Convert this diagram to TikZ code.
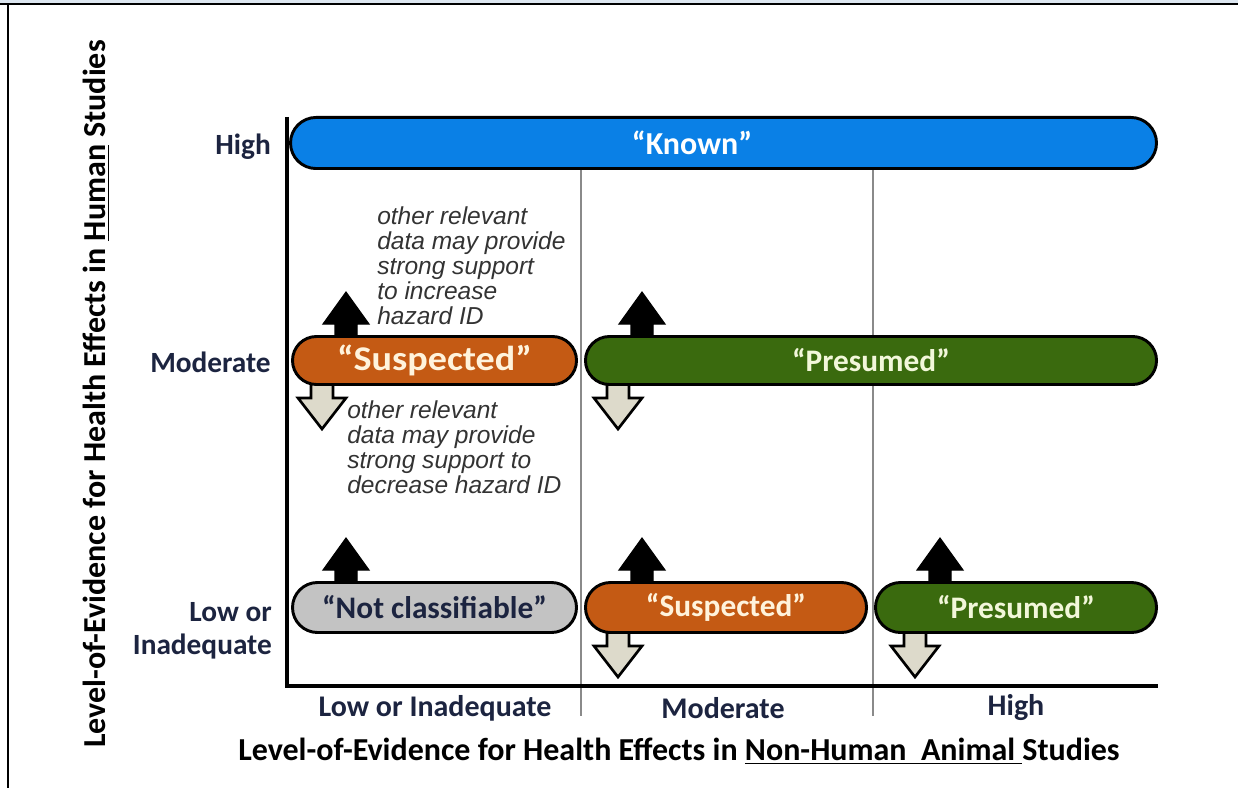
\documentclass[tikz,border=0pt]{standalone}
\usepackage{fontspec}
\usepackage{graphicx}
\setmainfont{Carlito}
\newfontfamily\notefont{Liberation Sans}
\usetikzlibrary{shapes.misc}
\definecolor{knownblue}{HTML}{0A80E6}
\definecolor{suspor}{HTML}{C45A14}
\definecolor{presgr}{HTML}{3A6A0E}
\definecolor{ncgray}{HTML}{C3C3C3}
\definecolor{downfill}{HTML}{DDDACB}
\definecolor{navy}{HTML}{1C2440}
\definecolor{framebl}{HTML}{DCE6F0}
\definecolor{gridgray}{HTML}{8A8A8A}
\definecolor{notegray}{HTML}{333333}
\definecolor{creamw}{HTML}{FFF3DC}
\definecolor{greenw}{HTML}{F2F7DA}
\tikzset{
  bar/.style={rounded rectangle, draw=black, line width=2.2pt, inner sep=0pt,
    font=\bfseries\fontsize{23.5}{27}\selectfont},
  upar/.style={fill=black, draw=black, line width=0.8pt, line join=miter},
  downar/.style={fill=downfill, draw=black, line width=2pt, line join=miter},
  axisline/.style={line width=2.4pt, black},
  gridl/.style={line width=1.6pt, gridgray},
  rowlab/.style={font=\bfseries\fontsize{22}{24.75}\selectfont, text=navy, align=right, anchor=east, inner sep=0pt},
  ticklab/.style={font=\bfseries\fontsize{22.5}{25}\selectfont, text=navy, inner sep=0pt},
  axtitle/.style={font=\bfseries\fontsize{24}{28}\selectfont, text=black, inner sep=0pt},
  note/.style={font=\notefont\itshape\fontsize{18.4}{18.75}\selectfont, text=notegray, align=left, anchor=north west, inner sep=0pt},
}
\newcommand\arrUp[3]{\draw[upar] (#1,#2) -- (#1+23,#2+32) -- (#1+11,#2+32) -- (#1+11,#3) -- (#1-11,#3) -- (#1-11,#2+32) -- (#1-23,#2+32) -- cycle;}
\newcommand\arrDown[3]{\draw[downar] (#1-11,#2) -- (#1+11,#2) -- (#1+11,#3-31) -- (#1+24,#3-31) -- (#1,#3) -- (#1-24,#3-31) -- (#1-11,#3-31) -- cycle;}
\begin{document}
\begin{tikzpicture}[x=0.75pt, y=-0.75pt]
\useasboundingbox (0,0) rectangle (1238,788);
% frame
\fill[framebl] (0,0) rectangle (1238,3.5);
\draw[line width=1.5pt] (0,4) -- (1238,4);
\draw[line width=1.5pt] (8,4) -- (8,788);
% grid lines
\draw[gridl] (581,170) -- (581,716);
\draw[gridl] (873,170) -- (873,716);
% axes
\draw[axisline] (287,117) -- (287,686) -- (1158,686);
% arrows (drawn behind bars)
\arrUp{346}{292}{360}
\arrUp{642}{292}{360}
\arrDown{322}{360}{429}
\arrDown{618}{360}{429}
\arrUp{346}{538}{607}
\arrUp{642}{538}{607}
\arrUp{940}{538}{607}
\arrDown{618}{607}{677}
\arrDown{915}{607}{677}
% bars
\node[bar, fill=knownblue, minimum width=649.5pt, minimum height=38.3pt] (known) at (723.5,143) {};
\node[text=white, font=\bfseries\fontsize{24}{28}\selectfont] (knowntxt) at (692,143) {“Known”};
\node[bar, fill=suspor, text=creamw, minimum width=213pt, minimum height=36pt, font=\bfseries\fontsize{26}{30}\selectfont] (msus) at (434.5,360.5) {\scalebox{1.1}[1]{“Suspected”}};
\node[bar, fill=presgr, text=greenw, minimum width=428.3pt, minimum height=36pt] (mpres) at (871,360.5) {“Presumed”};
\node[bar, fill=ncgray, text=navy, minimum width=213pt, minimum height=37.5pt] (lnc) at (434.5,607.5) {“Not classifiable”};
\node[bar, fill=suspor, text=creamw, minimum width=210.8pt, minimum height=37.5pt] (lsus) at (726,607.5) {“Suspected”};
\node[bar, fill=presgr, text=greenw, minimum width=210.8pt, minimum height=37.5pt] (lpres) at (1016,607.5) {“Presumed”};
% notes
\node[note] (noteup) at (377,206) {other relevant\\data may provide\\strong support\\to increase\\hazard ID};
\node[note] (notedown) at (347,400) {other relevant\\data may provide\\strong support to\\decrease hazard ID};
% row labels
\node[rowlab] (rhigh) at (271,147) {High};
\node[rowlab] (rmod) at (271,362) {Moderate};
\node[rowlab] (rlow) at (272,631) {Low or\\Inadequate};
% tick labels
\node[ticklab] (tlow) at (435,708) {Low or Inadequate};
\node[ticklab] (tmod) at (723,708) {Moderate};
\node[ticklab] (thigh) at (1016,708) {High};
% axis titles
\node[axtitle] (xtitle) at (679,751) {Level-of-Evidence for Health Effects in \underline{Non-Human\ \ Animal\ }Studies};
\node[axtitle, rotate=90] (ytitle) at (96,394) {Level-of-Evidence for Health Effects in \underline{Human} Studies};
\end{tikzpicture}
\end{document}
